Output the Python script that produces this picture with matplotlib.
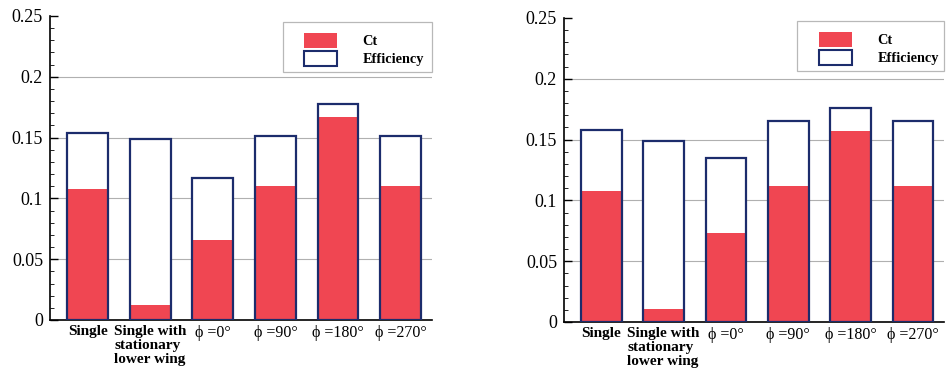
import matplotlib
matplotlib.use("Agg")
import matplotlib.pyplot as plt
from matplotlib.patches import Patch, Rectangle
from matplotlib.ticker import MultipleLocator
import numpy as np

plt.rcParams['font.family'] = ['Liberation Serif', 'DejaVu Serif']

categories = ["Single", "Single with\nstationary\nlower wing", "ϕ =0°", "ϕ =90°", "ϕ =180°", "ϕ =270°"]
cat_bold = [True, True, False, False, False, False]

left_eff = [0.154, 0.149, 0.117, 0.151, 0.178, 0.151]
left_ct = [0.108, 0.012, 0.066, 0.110, 0.167, 0.110]

right_eff = [0.158, 0.149, 0.135, 0.165, 0.176, 0.165]
right_ct = [0.108, 0.011, 0.073, 0.112, 0.157, 0.112]

yticks = [0, 0.05, 0.1, 0.15, 0.2, 0.25]
ytick_labels = ["0", "0.05", "0.1", "0.15", "0.2", "0.25"]

RED = "#f04652"
NAVY = "#1c2c6c"

W, H = 946, 372
fig = plt.figure(figsize=(W / 100, H / 100), dpi=100)

def make_ax(x0, x1, ytop, ybot):
    ax = fig.add_axes([x0 / W, 1 - ybot / H, (x1 - x0) / W, (ybot - ytop) / H])
    ax._px = (x0, x1, ytop, ybot)
    return ax

def px_to_axes(ax, px, py):
    x0, x1, ytop, ybot = ax._px
    return (px - x0) / (x1 - x0), (ybot - py) / (ybot - ytop)

def draw(ax, eff, ct, box):
    x = np.arange(len(categories))
    bw = 0.65
    ax.bar(x, eff, width=bw, color="white", edgecolor="none", zorder=2)
    ax.bar(x, ct, width=bw, color=RED, edgecolor="none", zorder=3)
    ax.bar(x, eff, width=bw, fill=False, edgecolor=NAVY, linewidth=1.6, zorder=4)
    ax.set_xlim(-0.6, 5.5)
    ax.set_ylim(0, 0.25)
    ax.set_yticks(yticks)
    ax.set_yticklabels(ytick_labels, fontsize=13)
    ax.yaxis.set_minor_locator(MultipleLocator(0.01))
    ax.tick_params(axis='y', which='major', direction='in', length=6, width=1, pad=5)
    ax.tick_params(axis='y', which='minor', direction='in', length=3, width=0.6)
    ax.set_xticks(x)
    ax.set_xticklabels([])
    ax.tick_params(axis='x', length=0)
    for xi, lab, b in zip(x, categories, cat_bold):
        ax.text(xi, -0.004, lab, ha='center', va='top', multialignment='left',
                fontsize=11 if b else 11.5, fontweight='bold' if b else 'normal',
                linespacing=1.12, transform=ax.transData, clip_on=False)
    for y in yticks[1:-1]:
        ax.axhline(y, color="#b0b0b0", linewidth=0.8, zorder=1)
    for s in ['top', 'right']:
        ax.spines[s].set_visible(False)
    ax.spines['left'].set_linewidth(1.2)
    ax.spines['bottom'].set_linewidth(1.2)
    # legend frame (pixel box)
    bx0, bx1, by0, by1, hx = box
    ax_x0, ax_y1 = px_to_axes(ax, bx0, by0)
    ax_x1, ax_y0 = px_to_axes(ax, bx1, by1)
    ax.add_patch(Rectangle((ax_x0, ax_y0), ax_x1 - ax_x0, ax_y1 - ax_y0,
                           transform=ax.transAxes, facecolor='white',
                           edgecolor='#b8b8b8', linewidth=0.9, zorder=5, clip_on=False))
    handles = [Patch(facecolor=RED, edgecolor='none', label='Ct'),
               Patch(facecolor='white', edgecolor=NAVY, linewidth=1.5, label='Efficiency')]
    hx_a, hy_a = px_to_axes(ax, hx, by0 + 11)
    leg = ax.legend(handles=handles, loc='upper left', bbox_to_anchor=(hx_a, hy_a),
                    frameon=False, handlelength=2.3, handleheight=1.25,
                    handletextpad=1.8, borderpad=0.0, labelspacing=0.15,
                    borderaxespad=0.0, prop={'weight': 'bold', 'size': 10.3})
    leg.set_zorder(6)

ax1 = make_ax(50, 432, 16, 320)
draw(ax1, left_eff, left_ct, (283, 432, 22, 72, 304))
ax2 = make_ax(564, 944, 18, 322)
draw(ax2, right_eff, right_ct, (797, 944, 21, 71, 819))

fig.savefig("out.png", dpi=100, facecolor="white")
